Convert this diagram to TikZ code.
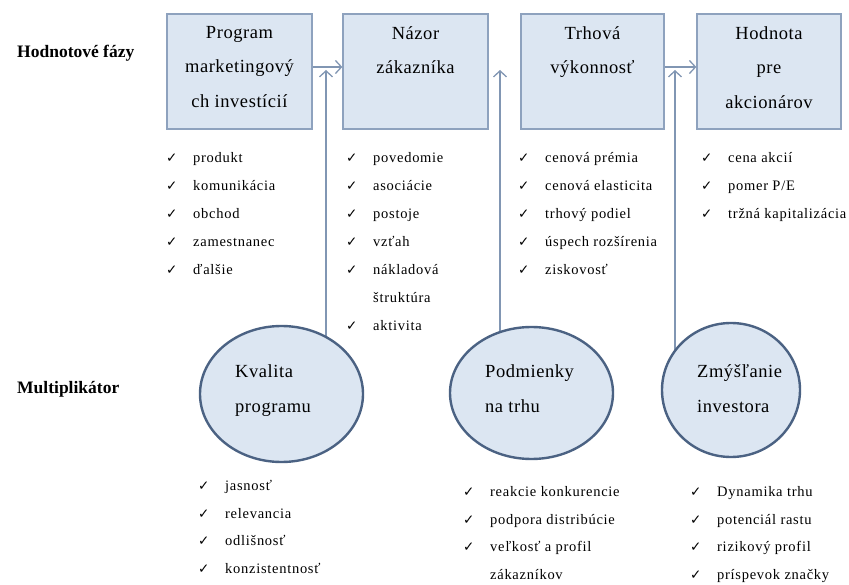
\documentclass[tikz,border=0pt]{standalone}
\usepackage{fontspec}
\setmainfont{Liberation Serif}
\newfontfamily\symfont{DejaVu Sans}
\newfontfamily\listfont[LetterSpace=5]{Liberation Serif}
\newfontfamily\boxfont[LetterSpace=3]{Liberation Serif}
\usetikzlibrary{arrows.meta,shapes.geometric,backgrounds}

\definecolor{boxfill}{HTML}{DCE6F2}
\definecolor{boxline}{HTML}{8EA2BE}
\definecolor{arrline}{HTML}{8196B3}
\definecolor{ellline}{HTML}{4B6283}

\tikzset{
  phasebox/.style={rectangle, draw=boxline, fill=boxfill, line width=1.3pt,
    minimum height=115pt, inner sep=0pt},
  multell/.style={ellipse, draw=ellline, fill=boxfill, line width=2.4pt, inner sep=0pt},
  boxtxt/.style={font=\boxfont\fontsize{18.5}{34.5}\selectfont, align=center,
    inner sep=0pt, anchor=north},
  elltxt/.style={font=\boxfont\fontsize{18.5}{35}\selectfont, align=left,
    inner sep=0pt, anchor=base west},
  itemtxt/.style={font=\listfont\fontsize{14.5}{16}\selectfont, inner sep=0pt, anchor=base west},
  chk/.style={font=\symfont\fontsize{13.5}{15}\selectfont, inner sep=0pt, anchor=base west},
  rowlabel/.style={font=\bfseries\fontsize{17.5}{20}\selectfont, inner sep=0pt, anchor=base west},
  flow/.style={draw=arrline, line width=1.3pt,
    -{Straight Barb[length=6pt,width=13pt,line width=1.3pt]}}
}

% one checked list row: name, text x, baseline y, text
\newcommand\listrow[4]{%
  \node[chk] (#1c) at (#2-27,#3) {✓};
  \node[itemtxt] (#1) at (#2,#3) {#4};}
% continuation row without a check mark
\newcommand\controw[4]{%
  \node[itemtxt] (#1) at (#2,#3) {#4};}

\begin{document}
\begin{tikzpicture}[x=1pt,y=-1pt]
\useasboundingbox (0,0) rectangle (849,585);

% row labels
\node[rowlabel] (lblphase) at (17,57.7) {Hodnotové fázy};
\node[rowlabel] (lblmult) at (17,393) {Multiplikátor};

% value phases
\node[phasebox, minimum width=145pt] (b1) at (239.5,71.5) {};
\node[phasebox, minimum width=145pt] (b2) at (415.5,71.5) {};
\node[phasebox, minimum width=143pt] (b3) at (592.5,71.5) {};
\node[phasebox, minimum width=144pt] (b4) at (769,71.5) {};

\node[boxtxt] (b1t) at (239.5,26) {Program\\marketingový\\ch investícií};
\node[boxtxt] (b2t) at (415.5,26) {Názor\\zákazníka};
\node[boxtxt] (b3t) at (592.5,26) {Trhová\\výkonnosť};
\node[boxtxt] (b4t) at (769,26) {Hodnota\\pre\\akcionárov};

% multipliers
\node[multell, minimum width=163pt, minimum height=136pt] (e1) at (281.5,394) {};
\node[multell, minimum width=163pt, minimum height=132pt] (e2) at (531.5,393) {};
\node[multell, minimum width=138pt, minimum height=134pt] (e3) at (731,390) {};

% the base anchor of these two-line nodes sits on the second line
\node[elltxt] (e1t) at (235,412) {Kvalita\\programu};
\node[elltxt] (e2t) at (485,412) {Podmienky\\na trhu};
\node[elltxt] (e3t) at (697,412) {Zmýšľanie\\investora};

% flow between phases
\draw[flow] ([yshift=4.5pt]b1.east) -- ([yshift=4.5pt]b2.west);
\draw[flow] ([yshift=4.5pt]b3.east) -- ([yshift=4.5pt]b4.west);

% multiplier arrows, starting behind the ellipses
\coordinate (t1) at (326,70);
\coordinate (t2) at (500,70);
\coordinate (t3) at (675,70);
\begin{scope}[on background layer]
  \draw[flow] (e1.center -| t1) -- (t1);
  \draw[flow] (e2.center -| t2) -- (t2);
  \draw[flow] (e3.center -| t3) -- (t3);
\end{scope}

% lists under the phases
\listrow{pa1}{193}{163}{produkt}
\listrow{pa2}{193}{191}{komunikácia}
\listrow{pa3}{193}{219}{obchod}
\listrow{pa4}{193}{247}{zamestnanec}
\listrow{pa5}{193}{275}{ďalšie}

\listrow{pb1}{373}{163}{povedomie}
\listrow{pb2}{373}{191}{asociácie}
\listrow{pb3}{373}{219}{postoje}
\listrow{pb4}{373}{247}{vzťah}
\listrow{pb5}{373}{275}{nákladová}
\controw{pb6}{373}{303}{štruktúra}
\listrow{pb7}{373}{331}{aktivita}

\listrow{pc1}{545}{163}{cenová prémia}
\listrow{pc2}{545}{191}{cenová elasticita}
\listrow{pc3}{545}{219}{trhový podiel}
\listrow{pc4}{545}{247}{úspech rozšírenia}
\listrow{pc5}{545}{275}{ziskovosť}

\listrow{pd1}{728}{163}{cena akcií}
\listrow{pd2}{728}{191}{pomer P/E}
\listrow{pd3}{728}{219}{tržná kapitalizácia}

% lists under the multipliers
\listrow{ma1}{225}{490}{jasnosť}
\listrow{ma2}{225}{518}{relevancia}
\listrow{ma3}{225}{545}{odlišnosť}
\listrow{ma4}{225}{573}{konzistentnosť}

\listrow{mb1}{490}{496}{reakcie konkurencie}
\listrow{mb2}{490}{524}{podpora distribúcie}
\listrow{mb3}{490}{551}{veľkosť a profil}
\controw{mb4}{490}{579}{zákazníkov}

\listrow{mc1}{717}{496}{Dynamika trhu}
\listrow{mc2}{717}{524}{potenciál rastu}
\listrow{mc3}{717}{551}{rizikový profil}
\listrow{mc4}{717}{579}{príspevok značky}
\end{tikzpicture}
\end{document}
